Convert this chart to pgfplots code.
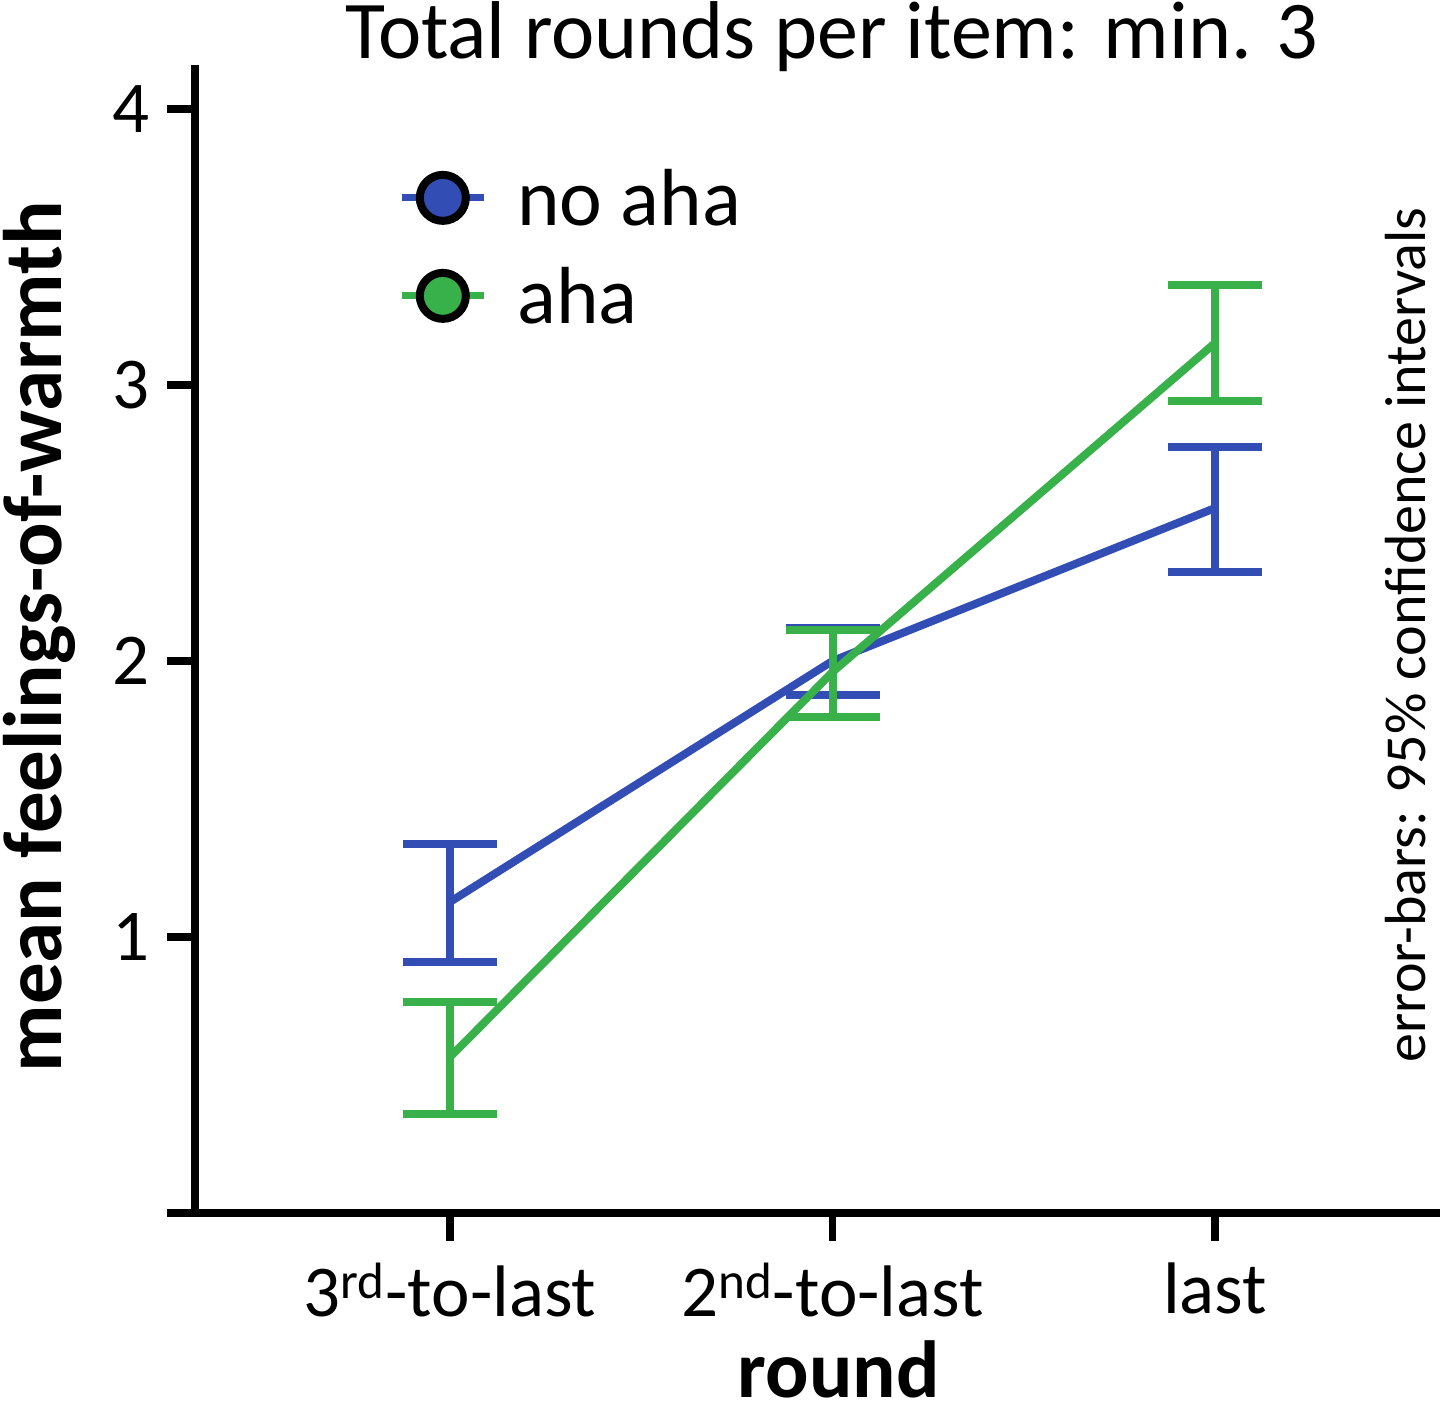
\documentclass[border=0pt]{standalone}
\usepackage{pgfplots}
\usepackage{pgfplotstable}
\pgfplotsset{compat=1.18}
\usepackage{fontspec}
\setmainfont{Carlito}
\definecolor{cblue}{RGB}{50,78,180}
\definecolor{cgreen}{RGB}{57,177,74}
\pgfplotstableread{
x  y      ep     em
0  1.127  0.210  0.218
1  2.000  0.120  0.123
2  2.554  0.221  0.232
}\noaha
\pgfplotstableread{
x  y      ep     em
0  0.565  0.199  0.206
1  1.960  0.152  0.163
2  3.152  0.210  0.210
}\aha
\begin{document}
\begin{tikzpicture}
\begin{axis}[
  scale only axis, width=622.5pt, height=574pt,
  xmin=-0.6667, xmax=2.588, ymin=0, ymax=4.159,
  clip=false,
  axis x line*=bottom, axis y line*=left,
  axis line style={line width=3.8pt, -},
  tick align=outside, major tick length=14pt,
  tick style={line width=3.8pt, black},
  xtick={0,1,2},
  xticklabels={3\textsuperscript{rd}-to-last, 2\textsuperscript{nd}-to-last, last},
  ytick={0,1,2,3,4}, yticklabels={,1,2,3,4},
  ticklabel style={font=\fontsize{36.5}{44}\selectfont},
  xticklabel style={yshift=-7.5pt},
  yticklabel style={xshift=-5pt},
  /pgf/number format/assume math mode=true,
  xlabel={round},
  xlabel style={at={(rel axis cs:0.517,-0.111)}, anchor=north, inner sep=0pt, text depth=0pt, font=\fontsize{40.5}{48}\selectfont\bfseries},
  ylabel={mean feelings-of-warmth},
  ylabel style={at={(rel axis cs:-0.1542,0.502)}, anchor=north, rotate=0, inner sep=0pt, font=\fontsize{41.5}{49}\selectfont\bfseries},
  legend image code/.code={\draw[mark repeat=2,mark phase=2,#1] plot coordinates {(0pt,0pt) (20.5pt,0pt) (41pt,0pt)};},
  legend style={at={(rel axis cs:0.163,0.909)}, anchor=north west, draw=none, fill=none,
    font=\fontsize{40.5}{48}\selectfont, inner sep=0pt, row sep=21pt,
    nodes={inner sep=0pt, text height=28pt, text depth=0pt},
    /tikz/every odd column/.append style={column sep=15pt}},
  legend cell align=left,
]
\coordinate (O) at (rel axis cs:0,0);
\addplot[cblue, line width=4pt, forget plot,
  error bars/.cd, y dir=both, y explicit,
  error bar style={line width=4pt},
  error mark options={rotate=90, line width=4pt, mark size=23.5pt, cblue}]
  table[x=x, y=y, y error plus=ep, y error minus=em] {\noaha};
\addplot[cgreen, line width=4pt, forget plot,
  error bars/.cd, y dir=both, y explicit,
  error bar style={line width=4pt},
  error mark options={rotate=90, line width=4pt, mark size=23.5pt, cgreen}]
  table[x=x, y=y, y error plus=ep, y error minus=em] {\aha};
\addlegendimage{cblue, line width=3.5pt, mark=*, mark size=11.5pt, mark options={draw=black, fill=cblue, line width=4pt}}
\addlegendentry{no aha}
\addlegendimage{cgreen, line width=3.5pt, mark=*, mark size=11.5pt, mark options={draw=black, fill=cgreen, line width=4pt}}
\addlegendentry{aha}
\node[anchor=base, inner sep=0pt, font=\fontsize{41}{49}\selectfont] at ([yshift=3pt]rel axis cs:0.5116,1) {Total rounds per item: min. 3};
\node[rotate=90, anchor=base, inner sep=0pt, font=\fontsize{29}{35}\selectfont] at (rel axis cs:0.9880,0.5035) {error-bars: 95\% confidence intervals};
\end{axis}
\pgfresetboundingbox
\path (O) ++(-97.5pt,-103pt) rectangle ++(720pt,709.5pt);
\end{tikzpicture}
\end{document}
